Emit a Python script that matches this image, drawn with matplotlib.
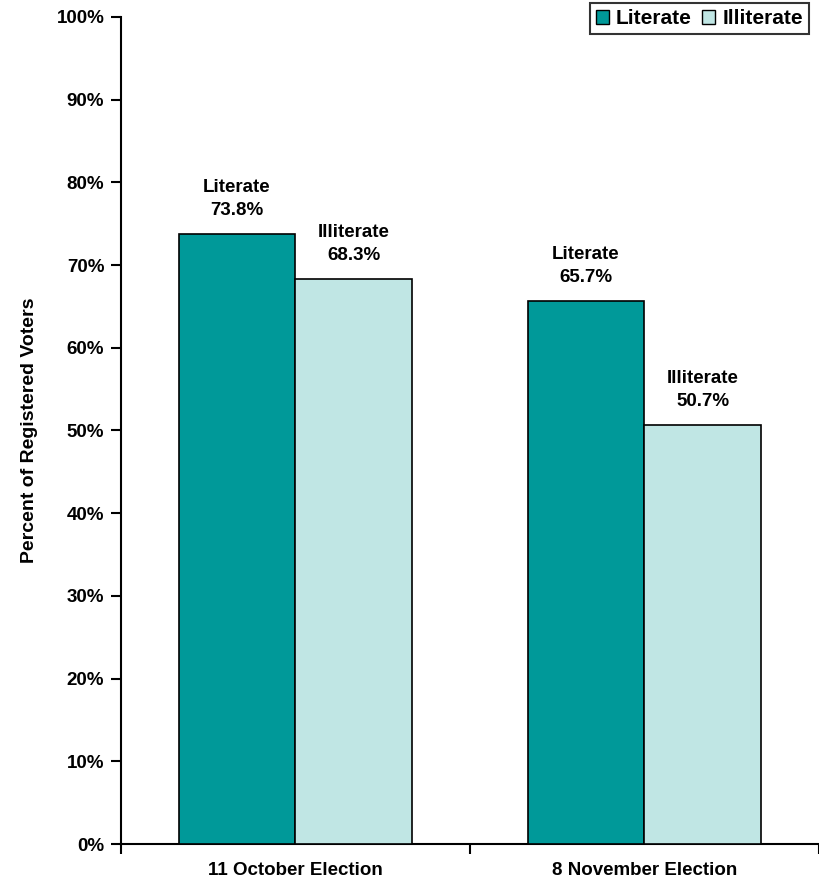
import numpy as np
import matplotlib.pyplot as plt
from matplotlib.patches import Patch

plt.rcParams['font.family'] = ['Liberation Sans', 'DejaVu Sans']
plt.rcParams['font.weight'] = 'bold'

categories = ['11 October Election', '8 November Election']
series = ['Literate', 'Illiterate']
literate = [73.8, 65.7]
illiterate = [68.3, 50.7]
colors = ['#009999', '#C0E6E4']

fig = plt.figure(figsize=(8.19, 8.88), dpi=100)
ax = fig.add_axes([0.1477, 0.0495, 0.8523, 0.9315])

x = np.arange(len(categories))
w = 0.335
for i, (vals, c) in enumerate(zip([literate, illiterate], colors)):
    pos = x + (i - 0.5) * w
    ax.bar(pos, vals, w, color=c, edgecolor='black', linewidth=1.2, zorder=3)
    for p, v in zip(pos, vals):
        ax.annotate(f'{series[i]}\n{v:.1f}%', (p, v), xytext=(0, 15),
                    textcoords='offset pixels', ha='center', va='bottom',
                    fontsize=13.5, fontweight='bold', linespacing=1.45)

ax.set_xlim(-0.5, 1.5)
ax.set_ylim(0, 100)
ax.set_yticks(np.arange(0, 101, 10))
ax.set_yticklabels([f'{t}%' for t in range(0, 101, 10)])
ax.set_xticks([-0.5, 0.5, 1.5])
ax.set_xticklabels([])
ax.set_xticks(x, minor=True)
ax.set_xticklabels(categories, minor=True)
ax.tick_params(axis='x', which='minor', length=0, pad=13, labelsize=13.5)
ax.tick_params(axis='x', which='major', length=7, width=1.5, direction='out')
ax.tick_params(axis='y', length=7, width=1.5, direction='out', labelsize=13.5, pad=5)
for lab in ax.get_yticklabels() + ax.get_xticklabels(minor=True):
    lab.set_fontweight('bold')

ax.spines['top'].set_visible(False)
ax.spines['right'].set_visible(False)
ax.spines['left'].set_linewidth(1.5)
ax.spines['bottom'].set_linewidth(1.5)
ax.set_ylabel('Percent of Registered Voters', fontsize=14, fontweight='bold', labelpad=13)

handles = [Patch(facecolor=c, edgecolor='black', label=s) for s, c in zip(series, colors)]
leg = ax.legend(handles=handles, loc='upper left', ncol=2,
                bbox_to_anchor=(590 / 819, 885 / 888), bbox_transform=fig.transFigure,
                frameon=True, fancybox=False, edgecolor='black', fontsize=15,
                handlelength=0.6, handleheight=0.6, handletextpad=0.35, columnspacing=0.5,
                borderpad=0.3, borderaxespad=0)
leg.get_frame().set_linewidth(1.5)
for t in leg.get_texts():
    t.set_fontweight('bold')

fig.savefig('out.png', dpi=100)
